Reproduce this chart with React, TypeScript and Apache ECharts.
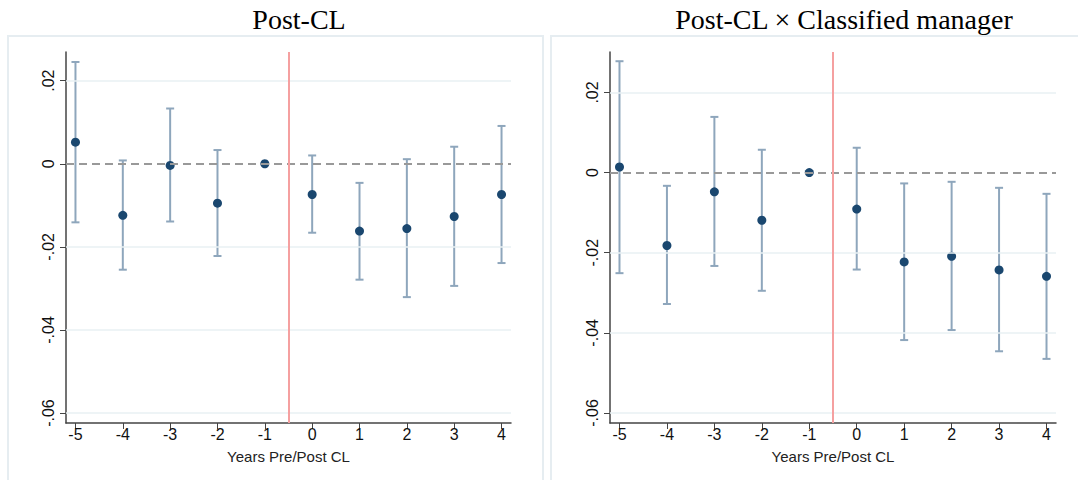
import React, { useEffect, useRef } from "react";
import * as echarts from "echarts";

const years = [-5, -4, -3, -2, -1, 0, 1, 2, 3, 4];
const yTicks = [-0.06, -0.04, -0.02, 0, 0.02];
const xTicks = [-5, -4, -3, -2, -1, 0, 1, 2, 3, 4];

const leftTitle = "Post-CL";
const rightTitle = "Post-CL × Classified manager";
const xName = "Years Pre/Post CL";

const leftCoef = [0.0052, -0.0124, -0.0004, -0.0095, 0, -0.0074, -0.0162, -0.0156, -0.0127, -0.0074];
const leftLow = [-0.0141, -0.0255, -0.0139, -0.0222, null, -0.0166, -0.0279, -0.0321, -0.0294, -0.0239];
const leftHigh = [0.0245, 0.0008, 0.0133, 0.0033, null, 0.002, -0.0046, 0.0011, 0.0041, 0.0091];

const rightCoef = [0.0014, -0.0182, -0.0048, -0.0119, 0, -0.0091, -0.0223, -0.0209, -0.0243, -0.0259];
const rightLow = [-0.0251, -0.0328, -0.0233, -0.0295, null, -0.0242, -0.0418, -0.0393, -0.0446, -0.0465];
const rightHigh = [0.0278, -0.0033, 0.0139, 0.0057, null, 0.0062, -0.0027, -0.0023, -0.0038, -0.0053];

const eventLine = -0.5;

const ciColor = "#8ea6bc";
const ptColor = "#1a476f";
const FONT = "Liberation Sans, Arial, Helvetica, sans-serif";

function errData(low: (number | null)[], high: (number | null)[]) {
  const out: number[][] = [];
  years.forEach((y, i) => {
    if (low[i] != null && high[i] != null) out.push([y, low[i] as number, high[i] as number]);
  });
  return out;
}

function renderErr(params: any, api: any) {
  const x = api.value(0);
  const lo = api.coord([x, api.value(1)]);
  const hi = api.coord([x, api.value(2)]);
  const hw = 4;
  const style = { stroke: ciColor, lineWidth: 2, fill: "none" };
  return {
    type: "group",
    children: [
      { type: "line", shape: { x1: lo[0], y1: lo[1], x2: hi[0], y2: hi[1] }, style },
      { type: "line", shape: { x1: lo[0] - hw, y1: lo[1], x2: lo[0] + hw, y2: lo[1] }, style },
      { type: "line", shape: { x1: hi[0] - hw, y1: hi[1], x2: hi[0] + hw, y2: hi[1] }, style },
    ],
  };
}

export default function App() {
  const ref = useRef<HTMLDivElement>(null);
  useEffect(() => {
    if (!ref.current) return;
    const chart = echarts.init(ref.current, null, { renderer: "svg" });

    const grids = [
      { left: 66, top: 52, width: 445, height: 371 },
      { left: 610, top: 52, width: 446, height: 371 },
    ];
    const yRanges = [
      [-0.0624, 0.0269],
      [-0.0625, 0.0301],
    ];

    const xAxes = [0, 1].map((i) => ({
      type: "value",
      gridIndex: i,
      min: -5.2,
      max: 4.2,
      name: xName,
      nameLocation: "middle",
      nameGap: 26,
      nameTextStyle: { fontFamily: FONT, fontSize: 15, color: "#222" },
      axisLine: { show: true, onZero: false, lineStyle: { color: "#444", width: 1.5 } },
      axisTick: { show: true, length: 6, customValues: xTicks, lineStyle: { color: "#444", width: 1 } },
      axisLabel: {
        customValues: xTicks,
        fontFamily: FONT,
        fontSize: 16,
        color: "#111",
        margin: 3,
        formatter: (v: number) => String(v),
      },
      splitLine: { show: false },
    }));

    const fmt = (v: number) => {
      if (Math.abs(v) < 1e-9) return "0";
      const s = Math.abs(v).toFixed(2).replace(/^0/, "");
      return (v < 0 ? "-" : "") + s;
    };

    const yAxes = [0, 1].map((i) => ({
      type: "value",
      gridIndex: i,
      min: yRanges[i][0],
      max: yRanges[i][1],
      axisLine: { show: true, onZero: false, lineStyle: { color: "#444", width: 1.5 } },
      axisTick: { show: true, length: 6, customValues: yTicks, lineStyle: { color: "#444", width: 1 } },
      axisLabel: {
        customValues: yTicks,
        rotate: 90,
        fontFamily: FONT,
        fontSize: 16,
        color: "#111",
        margin: 10,
        formatter: fmt,
      },
      splitLine: { show: false },
    }));

    const series: any[] = [];
    const sets = [
      [leftCoef, leftLow, leftHigh],
      [rightCoef, rightLow, rightHigh],
    ];
    sets.forEach(([coef, low, high], i) => {
      series.push({
        type: "line",
        xAxisIndex: i,
        yAxisIndex: i,
        data: [],
        silent: true,
        markLine: {
          silent: true,
          symbol: "none",
          label: { show: false },
          animation: false,
          data: yTicks
            .filter((t) => t !== 0)
            .map((t) => ({ yAxis: t, lineStyle: { color: "#e9f1f3", width: 1.5, type: "solid" } }))
            .concat([
              { yAxis: 0, lineStyle: { color: "#999999", width: 2, type: [8, 5] as any } } as any,
              { xAxis: eventLine, lineStyle: { color: "#f5a0a0", width: 2, type: "solid" } } as any,
            ]),
        },
      });
      series.push({
        type: "custom",
        xAxisIndex: i,
        yAxisIndex: i,
        renderItem: renderErr,
        data: errData(low as any, high as any),
        encode: { x: 0, y: [1, 2] },
        z: 3,
      });
      series.push({
        type: "scatter",
        xAxisIndex: i,
        yAxisIndex: i,
        symbolSize: 9,
        itemStyle: { color: ptColor, opacity: 1 },
        data: years.map((y, k) => [y, (coef as number[])[k]]),
        z: 4,
      });
    });

    chart.setOption({
      animation: false,
      backgroundColor: "#ffffff",
      grid: grids,
      xAxis: xAxes,
      yAxis: yAxes,
      series,
      graphic: [
        {
          type: "rect",
          shape: { x: 8, y: 36, width: 535, height: 450 },
          style: { fill: "none", stroke: "#e6edf1", lineWidth: 2 },
          z: -10,
        },
        {
          type: "rect",
          shape: { x: 551, y: 36, width: 540, height: 450 },
          style: { fill: "none", stroke: "#e6edf1", lineWidth: 2 },
          z: -10,
        },
        {
          type: "text",
          x: 299,
          y: 19,
          style: {
            text: leftTitle,
            fontFamily: "Liberation Serif, Times New Roman, serif",
            fontSize: 28,
            fill: "#000",
            align: "center",
            verticalAlign: "middle",
          },
        },
        {
          type: "text",
          x: 844,
          y: 19,
          style: {
            text: rightTitle,
            fontFamily: "Liberation Serif, Times New Roman, serif",
            fontSize: 28,
            fill: "#000",
            align: "center",
            verticalAlign: "middle",
          },
        },
      ],
    });
    return () => chart.dispose();
  }, []);
  return <div ref={ref} style={{ width: 1078, height: 480, position: "absolute", left: 0, top: 0 }} />;
}
